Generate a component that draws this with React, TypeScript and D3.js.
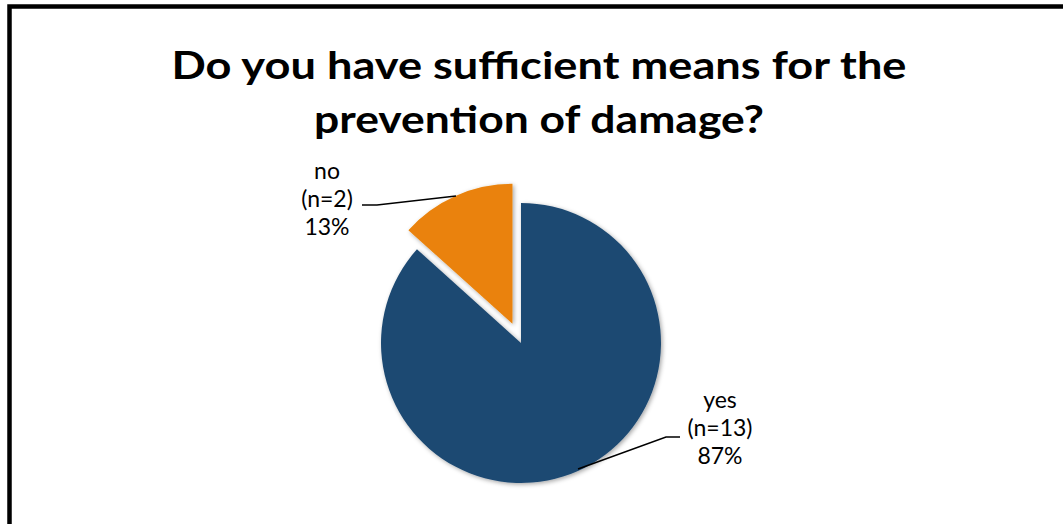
import React from "react";
import * as d3 from "d3";

const categories = ["yes", "no"];
const counts = [13, 2];
const percentLabels = ["87%", "13%"];
const colors = ["#1F4A72", "#EA8208"];
const titleLines = ["Do you have sufficient means for the", "prevention of damage?"];

export default function App() {
  const W = 1063;
  const H = 524;
  const cx = 521;
  const cy = 343;
  const r = 140;
  const explode = 21;

  const pie = d3.pie<number>().sort(null).value((d) => d);
  const arcs = pie(counts);
  const arcGen = d3.arc<d3.PieArcDatum<number>>().innerRadius(0).outerRadius(r);

  const labelPos = [
    { x: 720, y: 436, leader: [[680, 437], [666, 437], [578, 469]] },
    { x: 327, y: 207, leader: [[362, 205], [377, 205], [456, 196]] },
  ];
  const line = d3.line();

  return (
    <svg
      width={W}
      height={H}
      style={{ position: "absolute", left: 0, top: 0, background: "#fff" }}
      fontFamily="Lato, 'Open Sans', sans-serif"
    >
      <defs>
        <filter id="sh" x="-20%" y="-20%" width="140%" height="140%">
          <feDropShadow dx="1.5" dy="1.5" stdDeviation="2" floodColor="#000" floodOpacity="0.35" />
        </filter>
      </defs>
      <rect x={9.5} y={6.5} width={1120} height={600} fill="#fff" stroke="#000" strokeWidth={4.5} />
      {titleLines.map((t, i) => (
        <text
          key={i}
          x={539}
          y={79 + i * 54}
          textAnchor="middle"
          fontWeight="bold"
          fontSize={38}
          textLength={i === 0 ? 735 : 450}
          lengthAdjust="spacingAndGlyphs"
          fill="#000"
        >
          {t}
        </text>
      ))}
      <g transform={`translate(${cx},${cy})`} filter="url(#sh)">
        {arcs.map((a, i) => {
          const mid = (a.startAngle + a.endAngle) / 2;
          const off = i === 1 ? explode : 0;
          const dx = Math.sin(mid) * off;
          const dy = -Math.cos(mid) * off;
          return (
            <path key={i} d={arcGen(a) || ""} fill={colors[i]} transform={`translate(${dx},${dy})`} />
          );
        })}
      </g>
      {labelPos.map((p, i) => (
        <g key={i}>
          <path d={line(p.leader as [number, number][]) || ""} fill="none" stroke="#000" strokeWidth={1.5} />
          <text x={p.x} textAnchor="middle" fontSize={23} fill="#000">
            <tspan x={p.x} y={p.y - 28}>{categories[i]}</tspan>
            <tspan x={p.x} y={p.y}>{`(n=${counts[i]})`}</tspan>
            <tspan x={p.x} y={p.y + 28}>{percentLabels[i]}</tspan>
          </text>
        </g>
      ))}
    </svg>
  );
}
